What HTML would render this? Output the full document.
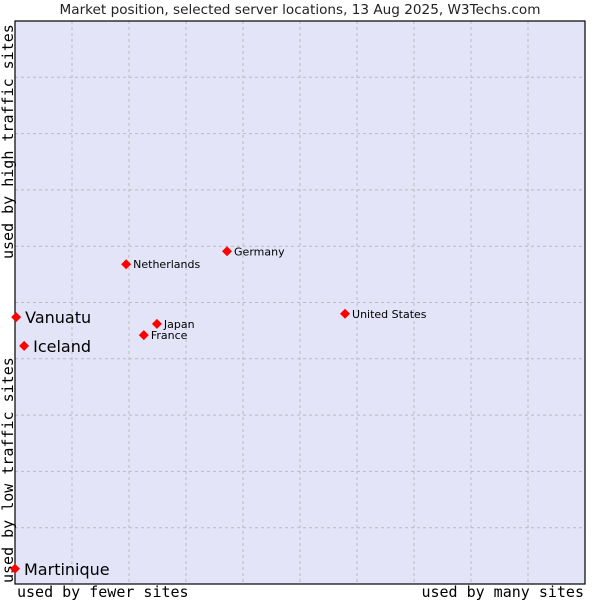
<!DOCTYPE html>
<html><head><meta charset="utf-8"><style>
body{margin:0;background:#fff;}
svg{display:block;}
</style></head><body>
<svg id="chart" width="600" height="600" xmlns="http://www.w3.org/2000/svg">
<rect x="0" y="0" width="600" height="600" fill="#fff"/>
<text x="300" y="14" text-anchor="middle" font-family="DejaVu Sans, Liberation Sans, sans-serif" font-size="13.6" fill="#222">Market position, selected server locations, 13 Aug 2025, W3Techs.com</text>
<rect x="15" y="21" width="570" height="563" fill="#e3e4f8" stroke="#000" stroke-width="1"/>
<g id="grid"></g>
<rect x="15" y="21" width="570" height="563" fill="none" stroke="#000" stroke-width="1.2"/>
<text x="17" y="597" font-family="DejaVu Sans Mono, Liberation Mono, monospace" font-size="15" fill="#000">used by fewer sites</text>
<text x="584" y="597" text-anchor="end" font-family="DejaVu Sans Mono, Liberation Mono, monospace" font-size="15" fill="#000">used by many sites</text>
<text transform="translate(13,583) rotate(-90)" font-family="DejaVu Sans Mono, Liberation Mono, monospace" font-size="15" fill="#000">used by low traffic sites</text>
<text transform="translate(13,259) rotate(-90)" font-family="DejaVu Sans Mono, Liberation Mono, monospace" font-size="15" fill="#000">used by high traffic sites</text>
<g id="points"></g>
</svg>
<script>
const names = ["Vanuatu","Iceland","Martinique","Netherlands","Germany","Japan","France","United States"];
const xValues = [0.2, 1.6, 0, 19.5, 37.2, 24.9, 22.6, 57.9];
const yValues = [47.4, 42.3, 2.7, 56.8, 59.1, 46.2, 44.2, 48.0];
const bigLabel = [true, true, true, false, false, false, false, false];

const NS = "http://www.w3.org/2000/svg";
const L=15, T=21, W=570, H=563;
function sx(v){return L + v/100*W;}
function sy(v){return T + H - v/100*H;}
const grid=document.getElementById('grid');
for(let i=1;i<10;i++){
  const gx=document.createElementNS(NS,'line');
  gx.setAttribute('x1',L+i*W/10);gx.setAttribute('x2',L+i*W/10);
  gx.setAttribute('y1',T);gx.setAttribute('y2',T+H);
  gx.setAttribute('stroke','#bbb');gx.setAttribute('stroke-dasharray','3,3');
  
  
  grid.appendChild(gx);
  const gy=document.createElementNS(NS,'line');
  gy.setAttribute('y1',T+i*H/10);gy.setAttribute('y2',T+i*H/10);
  gy.setAttribute('x1',L);gy.setAttribute('x2',L+W);
  gy.setAttribute('stroke','#bbb');gy.setAttribute('stroke-dasharray','3,3');
  
  
  grid.appendChild(gy);
}
const pts=document.getElementById('points');
names.forEach((n,i)=>{
  const x=sx(xValues[i]), y=sy(yValues[i]);
  const d=document.createElementNS(NS,'path');
  d.setAttribute('d',`M${x} ${y-5}L${x+5} ${y}L${x} ${y+5}L${x-5} ${y}Z`);
  d.setAttribute('fill','#f00');
  
  
  pts.appendChild(d);
  const t=document.createElementNS(NS,'text');
  const big=bigLabel[i];
  t.setAttribute('x',x+(big?9:7));
  t.setAttribute('y',y+(big?6:4));
  t.setAttribute('font-family','DejaVu Sans, Liberation Sans, sans-serif');
  t.setAttribute('font-size',big?'16':'11');
  t.setAttribute('fill','#000');
  t.textContent=n;
  
  
  pts.appendChild(t);
});
</script>
</body></html>
